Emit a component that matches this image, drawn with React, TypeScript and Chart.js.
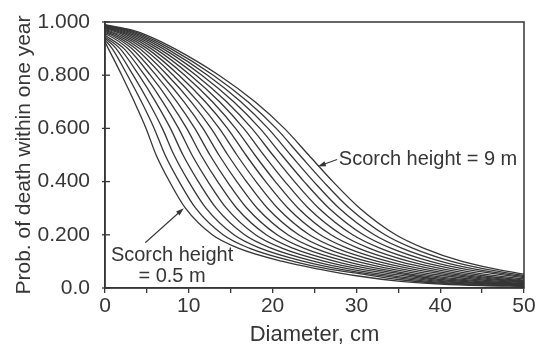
import React, { useEffect, useRef } from "react";
import { Chart, registerables } from "chart.js";

Chart.register(...registerables);

// Each curve: [diameter (cm), probability of death within one year]
const SH_0_5 = [[0, 0.925], [0.4, 0.9], [2.0, 0.8], [3.5, 0.7], [4.9, 0.6], [6.1, 0.5], [7.7, 0.4], [9.6, 0.3], [12.8, 0.2], [15.9, 0.15], [21.2, 0.1], [25.7, 0.07], [30, 0.046], [35, 0.026], [40, 0.015], [45, 0.009], [50, 0.006]];
const SH_1_0 = [[0, 0.932], [0.86, 0.9], [2.68, 0.8], [4.35, 0.7], [5.87, 0.6], [7.17, 0.5], [8.85, 0.4], [10.82, 0.3], [14.09, 0.2], [17.2, 0.15], [22.46, 0.1], [26.94, 0.07], [30, 0.056], [35, 0.032], [40, 0.018], [45, 0.011], [50, 0.008]];
const SH_1_5 = [[0, 0.938], [1.33, 0.9], [3.36, 0.8], [5.19, 0.7], [6.84, 0.6], [8.24, 0.5], [9.99, 0.4], [12.05, 0.3], [15.38, 0.2], [18.5, 0.15], [23.72, 0.1], [28.18, 0.07], [35, 0.038], [40, 0.021], [45, 0.013], [50, 0.009]];
const SH_2_0 = [[0, 0.944], [1.79, 0.9], [4.05, 0.8], [6.04, 0.7], [7.81, 0.6], [9.31, 0.5], [11.14, 0.4], [13.27, 0.3], [16.66, 0.2], [19.8, 0.15], [24.98, 0.1], [29.42, 0.07], [35, 0.043], [40, 0.025], [45, 0.016], [50, 0.010]];
const SH_2_5 = [[0, 0.95], [2.26, 0.9], [4.73, 0.8], [6.89, 0.7], [8.78, 0.6], [10.38, 0.5], [12.29, 0.4], [14.49, 0.3], [17.95, 0.2], [21.1, 0.15], [26.24, 0.1], [30.66, 0.07], [35, 0.049], [40, 0.028], [45, 0.018], [50, 0.012]];
const SH_3_0 = [[0, 0.955], [0.41, 0.95], [2.72, 0.9], [5.41, 0.8], [7.74, 0.7], [9.75, 0.6], [11.45, 0.5], [13.44, 0.4], [15.72, 0.3], [19.24, 0.2], [22.4, 0.15], [27.49, 0.1], [31.91, 0.07], [35, 0.055], [40, 0.032], [45, 0.020], [50, 0.014]];
const SH_3_5 = [[0, 0.96], [0.79, 0.95], [3.19, 0.9], [6.09, 0.8], [8.58, 0.7], [10.72, 0.6], [12.52, 0.5], [14.58, 0.4], [16.94, 0.3], [20.53, 0.2], [23.7, 0.15], [28.75, 0.1], [33.15, 0.07], [40, 0.037], [45, 0.023], [50, 0.015]];
const SH_4_0 = [[0, 0.965], [1.17, 0.95], [3.65, 0.9], [6.78, 0.8], [9.43, 0.7], [11.69, 0.6], [13.59, 0.5], [15.73, 0.4], [18.16, 0.3], [21.82, 0.2], [25.0, 0.15], [30.01, 0.1], [34.39, 0.07], [40, 0.042], [45, 0.026], [50, 0.017]];
const SH_4_5 = [[0, 0.968], [1.56, 0.95], [4.12, 0.9], [7.46, 0.8], [10.28, 0.7], [12.66, 0.6], [14.66, 0.5], [16.88, 0.4], [19.39, 0.3], [23.11, 0.2], [26.3, 0.15], [31.27, 0.1], [35.63, 0.07], [40, 0.048], [45, 0.030], [50, 0.020]];
const SH_5_0 = [[0, 0.972], [1.94, 0.95], [4.58, 0.9], [8.14, 0.8], [11.12, 0.7], [13.64, 0.6], [15.74, 0.5], [18.02, 0.4], [20.61, 0.3], [24.39, 0.2], [27.6, 0.15], [32.53, 0.1], [36.87, 0.07], [40, 0.054], [45, 0.034], [50, 0.022]];
const SH_5_5 = [[0, 0.975], [0.62, 0.97], [2.32, 0.95], [5.05, 0.9], [8.82, 0.8], [11.97, 0.7], [14.61, 0.6], [16.81, 0.5], [19.17, 0.4], [21.84, 0.3], [25.68, 0.2], [28.9, 0.15], [33.79, 0.1], [38.11, 0.07], [45, 0.038], [50, 0.025]];
const SH_6_0 = [[0, 0.978], [0.98, 0.97], [2.7, 0.95], [5.51, 0.9], [9.51, 0.8], [12.82, 0.7], [15.58, 0.6], [17.88, 0.5], [20.32, 0.4], [23.06, 0.3], [26.97, 0.2], [30.2, 0.15], [35.05, 0.1], [39.35, 0.07], [45, 0.042], [50, 0.027]];
const SH_6_5 = [[0, 0.98], [1.34, 0.97], [3.08, 0.95], [5.98, 0.9], [10.19, 0.8], [13.67, 0.7], [16.55, 0.6], [18.95, 0.5], [21.47, 0.4], [24.28, 0.3], [28.26, 0.2], [31.5, 0.15], [36.31, 0.1], [40.59, 0.07], [45, 0.047], [50, 0.030]];
const SH_7_0 = [[0, 0.982], [1.71, 0.97], [3.47, 0.95], [6.44, 0.9], [10.87, 0.8], [14.51, 0.7], [17.52, 0.6], [20.02, 0.5], [22.61, 0.4], [25.51, 0.3], [29.55, 0.2], [32.8, 0.15], [37.56, 0.1], [41.84, 0.07], [45, 0.053], [50, 0.034]];
const SH_7_5 = [[0, 0.984], [2.07, 0.97], [3.85, 0.95], [6.91, 0.9], [11.55, 0.8], [15.36, 0.7], [18.49, 0.6], [21.09, 0.5], [23.76, 0.4], [26.73, 0.3], [30.83, 0.2], [34.1, 0.15], [38.82, 0.1], [43.08, 0.07], [50, 0.039]];
const SH_8_0 = [[0, 0.986], [2.43, 0.97], [4.23, 0.95], [7.37, 0.9], [12.24, 0.8], [16.21, 0.7], [19.46, 0.6], [22.16, 0.5], [24.91, 0.4], [27.95, 0.3], [32.12, 0.2], [35.4, 0.15], [40.08, 0.1], [44.32, 0.07], [50, 0.043]];
const SH_8_5 = [[0, 0.988], [2.79, 0.97], [4.61, 0.95], [7.84, 0.9], [12.92, 0.8], [17.05, 0.7], [20.43, 0.6], [23.23, 0.5], [26.06, 0.4], [29.18, 0.3], [33.41, 0.2], [36.7, 0.15], [41.34, 0.1], [45.56, 0.07], [50, 0.047]];
const SH_9_0 = [[0, 0.99], [3.15, 0.97], [5.0, 0.95], [8.3, 0.9], [13.6, 0.8], [17.9, 0.7], [21.4, 0.6], [24.3, 0.5], [27.2, 0.4], [30.4, 0.3], [34.7, 0.2], [38.0, 0.15], [42.6, 0.1], [46.8, 0.07], [50, 0.052]];

const SCORCH_HEIGHTS = [0.5, 1, 1.5, 2, 2.5, 3, 3.5, 4, 4.5, 5, 5.5, 6, 6.5, 7, 7.5, 8, 8.5, 9];
const SERIES = [
  SH_0_5, SH_1_0, SH_1_5, SH_2_0, SH_2_5, SH_3_0, SH_3_5, SH_4_0, SH_4_5,
  SH_5_0, SH_5_5, SH_6_0, SH_6_5, SH_7_0, SH_7_5, SH_8_0, SH_8_5, SH_9_0,
];

const Y_TICKS = [0, 0.2, 0.4, 0.6, 0.8, 1.0];

const X_TITLE = "Diameter, cm";
const Y_TITLE = "Prob. of death within one year";

// Annotation anchors in data units
const TOP_NOTE = { text: "Scorch height = 9 m", x: 27.9, y: 0.483 };
const TOP_ARROW = { from: [27.7, 0.483], to: [25.4, 0.457] };
const BOTTOM_NOTE_LINES = ["Scorch height", "= 0.5 m"];
const BOTTOM_NOTE = { x: 8.0, y1: 0.121, y2: 0.042 };
const BOTTOM_ARROW = { from: [4.8, 0.17], to: [9.4, 0.30] };

const INK = "#363636";
const FONT = "'Liberation Sans', Arial, sans-serif";

export default function App() {
  const ref = useRef<HTMLCanvasElement>(null);

  useEffect(() => {
    document.body.style.margin = "0";
    const canvas = ref.current;
    if (!canvas) return;

    const drawArrow = (ctx: CanvasRenderingContext2D, x1: number, y1: number, x2: number, y2: number) => {
      const ang = Math.atan2(y2 - y1, x2 - x1);
      const head = 8;
      const hw = 2.6;
      ctx.beginPath();
      ctx.moveTo(x1, y1);
      ctx.lineTo(x2 - Math.cos(ang) * head * 0.8, y2 - Math.sin(ang) * head * 0.8);
      ctx.stroke();
      ctx.beginPath();
      ctx.moveTo(x2, y2);
      ctx.lineTo(x2 - Math.cos(ang) * head - Math.sin(ang) * hw, y2 - Math.sin(ang) * head + Math.cos(ang) * hw);
      ctx.lineTo(x2 - Math.cos(ang) * head + Math.sin(ang) * hw, y2 - Math.sin(ang) * head - Math.cos(ang) * hw);
      ctx.closePath();
      ctx.fill();
    };

    const decor = {
      id: "decor",
      beforeDraw(chart: any) {
        const { ctx, width, height } = chart;
        ctx.save();
        ctx.fillStyle = "#ffffff";
        ctx.fillRect(0, 0, width, height);
        ctx.restore();
      },
      afterDraw(chart: any) {
        const { ctx, chartArea } = chart;
        const xs = chart.scales.x;
        const ys = chart.scales.y;
        ctx.save();
        ctx.strokeStyle = INK;
        ctx.fillStyle = INK;
        ctx.lineWidth = 1.5;
        ctx.strokeRect(chartArea.left, chartArea.top, chartArea.right - chartArea.left, chartArea.bottom - chartArea.top);
        ctx.lineWidth = 1.3;
        Y_TICKS.forEach((v) => {
          const py = ys.getPixelForValue(v);
          ctx.beginPath();
          ctx.moveTo(chartArea.left - 3, py);
          ctx.lineTo(chartArea.left + 5, py);
          ctx.stroke();
        });
        ctx.font = `20px ${FONT}`;
        ctx.textBaseline = "middle";
        ctx.textAlign = "left";
        ctx.fillText(TOP_NOTE.text, xs.getPixelForValue(TOP_NOTE.x), ys.getPixelForValue(TOP_NOTE.y));
        ctx.textAlign = "center";
        ctx.fillText(BOTTOM_NOTE_LINES[0], xs.getPixelForValue(BOTTOM_NOTE.x), ys.getPixelForValue(BOTTOM_NOTE.y1));
        ctx.fillText(BOTTOM_NOTE_LINES[1], xs.getPixelForValue(BOTTOM_NOTE.x), ys.getPixelForValue(BOTTOM_NOTE.y2));
        ctx.lineWidth = 1.1;
        drawArrow(
          ctx,
          xs.getPixelForValue(TOP_ARROW.from[0]), ys.getPixelForValue(TOP_ARROW.from[1]),
          xs.getPixelForValue(TOP_ARROW.to[0]), ys.getPixelForValue(TOP_ARROW.to[1])
        );
        drawArrow(
          ctx,
          xs.getPixelForValue(BOTTOM_ARROW.from[0]), ys.getPixelForValue(BOTTOM_ARROW.from[1]),
          xs.getPixelForValue(BOTTOM_ARROW.to[0]), ys.getPixelForValue(BOTTOM_ARROW.to[1])
        );
        ctx.restore();
      },
    };

    const datasets = SERIES.map((pts, i) => ({
      label: `Scorch height = ${SCORCH_HEIGHTS[i]} m`,
      data: pts.map(([x, y]) => ({ x, y })),
      borderColor: INK,
      borderWidth: 1.3,
      pointRadius: 0,
      fill: false,
      cubicInterpolationMode: "monotone" as const,
    }));

    const chart = new Chart(canvas, {
      type: "line",
      data: { datasets },
      options: {
        animation: false,
        responsive: false,
        devicePixelRatio: 1,
        layout: { padding: { top: 22, right: 15, left: 0, bottom: 0 } },
        plugins: { legend: { display: false }, tooltip: { enabled: false } },
        scales: {
          x: {
            type: "linear",
            min: 0,
            max: 50,
            ticks: {
              stepSize: 5,
              autoSkip: false,
              maxRotation: 0,
              padding: 1,
              color: INK,
              font: { family: FONT, size: 21 },
              callback: (v: any) => (Number(v) % 10 === 0 ? String(v) : ""),
            },
            grid: { display: true, drawOnChartArea: false, drawTicks: true, tickLength: 5, color: INK, lineWidth: 1.3 },
            border: { display: true, color: INK, width: 1.5 },
            title: {
              display: true,
              text: X_TITLE,
              color: INK,
              font: { family: FONT, size: 22 },
              padding: { top: 0, bottom: 1 },
            },
            afterFit: (axis: any) => {
              axis.height = 61;
            },
          },
          y: {
            type: "linear",
            min: 0,
            max: 1,
            ticks: {
              stepSize: 0.2,
              padding: 7,
              color: INK,
              font: { family: FONT, size: 21 },
              callback: (v: any) => (Number(v) === 0 ? "0.0" : Number(v).toFixed(3)),
            },
            grid: { display: false },
            border: { display: true, color: INK, width: 1.5 },
            title: {
              display: true,
              text: Y_TITLE,
              color: INK,
              font: { family: FONT, size: 21 },
              padding: { top: 12, bottom: 0 },
            },
            afterFit: (axis: any) => {
              axis.width = 105;
            },
          },
        },
      },
      plugins: [decor],
    });

    return () => chart.destroy();
  }, []);

  return (
    <div style={{ width: 539, height: 349, background: "#fff" }}>
      <canvas ref={ref} width={539} height={349} style={{ width: 539, height: 349, display: "block" }} />
    </div>
  );
}
